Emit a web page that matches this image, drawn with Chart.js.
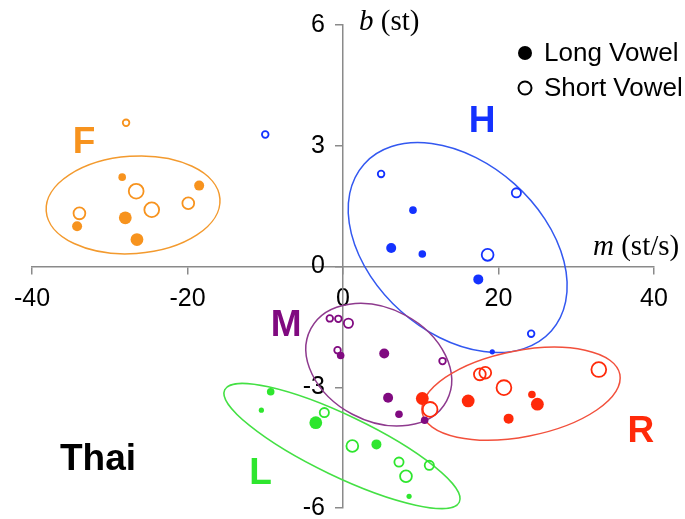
<!DOCTYPE html>
<html>
<head>
<meta charset="utf-8">
<script src="https://cdn.jsdelivr.net/npm/chart.js@4"></script>
<style>
    html, body { margin: 0; padding: 0; background: #fff; }
</style>
</head>
<body>
<canvas id="chart" width="685" height="519"></canvas>
<script>
// Tone groups F, H, M, R, L: slope m (st/s) and level b (st) per token.
// xxLong: 1 = long vowel (filled marker), 0 = short vowel (open marker)
// xxW: relative marker weight, 1 (smallest) .. 4 (largest)
const fM = [-27.9, -28.4, -26.6, -18.5, -24.6, -19.9, -33.9, -34.2, -28.0, -26.5];
const fB = [3.57, 2.22, 1.87, 2.01, 1.41, 1.57, 1.32, 1.00, 1.21, 0.67];
const fLong = [0, 1, 0, 1, 0, 0, 0, 1, 1, 1];
const fW = [1, 2, 4, 3, 4, 3, 3, 3, 4, 4];

const hM = [-10.0, 4.9, 22.3, 9.0, 6.2, 10.2, 18.6, 17.4, 24.2, 19.2];
const hB = [3.28, 2.30, 1.83, 1.40, 0.46, 0.31, 0.29, -0.32, -1.67, -2.12];
const hLong = [0, 0, 0, 1, 1, 1, 0, 1, 0, 1];
const hW = [1, 1, 2, 2, 3, 2, 3, 3, 1, 1];

const mM = [-1.7, -0.6, 0.7, -0.7, -0.3, 5.3, 12.8, 5.8, 7.2, 10.5];
const mB = [-1.29, -1.30, -1.41, -2.08, -2.21, -2.16, -2.35, -3.26, -3.67, -3.82];
const mLong = [0, 0, 0, 0, 1, 1, 0, 1, 1, 1];
const mW = [1, 1, 2, 1, 2, 3, 1, 3, 2, 2];

const rM = [17.6, 18.3, 20.7, 32.9, 24.3, 25.0, 21.3, 16.1, 10.2, 11.2];
const rB = [-2.68, -2.64, -3.01, -2.56, -3.18, -3.42, -3.78, -3.34, -3.28, -3.55];
const rLong = [0, 0, 0, 0, 1, 1, 1, 1, 1, 0];
const rW = [3, 3, 4, 4, 2, 4, 3, 4, 4, 4];

const lM = [-9.3, -10.5, -2.4, -3.5, 1.2, 4.3, 7.2, 8.1, 11.1, 8.5];
const lB = [-3.11, -3.57, -3.63, -3.88, -4.46, -4.42, -4.86, -5.21, -4.94, -5.71];
const lLong = [1, 1, 0, 1, 0, 1, 0, 0, 0, 1];
const lW = [2, 1, 2, 4, 3, 3, 2, 3, 2, 1];

const xTicks = [-40, -20, 0, 20, 40];
const yTicks = [-6, -3, 0, 3, 6];

// marker radii by weight
const filledR = [0, 2.6, 3.8, 5, 6.4];
const openR = [0, 3.3, 4.6, 5.9, 7.4];

// ellipse: centre (m, b), semi axes in x units, rotation in degrees
const groups = [
    { name: 'F', m: fM, b: fB, long: fLong, w: fW, color: '#F7931E', line: '#F39A2E',
      ell: [-27.0, 1.53, 11.2, 6.26, -4], label: [-33.3, 3.07] },
    { name: 'H', m: hM, b: hB, long: hLong, w: hW, color: '#1432FF', line: '#3358F0',
      ell: [14.75, 0.47, 16.13, 10.97, 41.7], label: [17.9, 3.6] },
    { name: 'M', m: mM, b: mB, long: mLong, w: mW, color: '#800A80', line: '#8E3A8E',
      ell: [4.6, -2.44, 9.89, 7.22, 28], label: [-7.3, -1.47] },
    { name: 'R', m: rM, b: rB, long: rLong, w: rW, color: '#FF2A0A', line: '#F2503C',
      ell: [22.9, -3.16, 12.95, 5.54, -11], label: [38.3, -4.11] },
    { name: 'L', m: lM, b: lB, long: lLong, w: lW, color: '#2EE62E', line: '#44E044',
      ell: [-0.13, -4.46, 16.73, 3.92, 25.6], label: [-10.6, -5.15] }
];

const datasets = groups.map(g => ({
    label: g.name,
    data: g.m.map((v, i) => ({ x: v, y: g.b[i] })),
    pointRadius: g.w.map((w, i) => g.long[i] ? filledR[w] : openR[w]),
    pointBackgroundColor: g.long.map(l => l ? g.color : 'rgba(0,0,0,0)'),
    pointBorderColor: g.color,
    pointBorderWidth: g.long.map(l => l ? 0 : 1.8),
    pointHoverRadius: g.w.map((w, i) => g.long[i] ? filledR[w] : openR[w]),
    showLine: false,
    clip: false
}));

const axisGray = '#8a8a8a';
const tickFont = { family: "'Liberation Sans', Arial, sans-serif", size: 25, lineHeight: 1 };

// centre axes should not take space from the plot area
function noReserve(s) {
    s.paddingTop = s.paddingBottom = s.paddingLeft = s.paddingRight = 0;
    if (s.isHorizontal()) s.height = 0; else s.width = 0;
}

const overlay = {
    id: 'overlay',
    beforeDatasetsDraw(chart) {
        const { ctx, scales: { x, y } } = chart;
        const unit = Math.abs(x.getPixelForValue(1) - x.getPixelForValue(0));
        groups.forEach(g => {
            const [cx, cy, a, b, rot] = g.ell;
            ctx.save();
            ctx.beginPath();
            ctx.ellipse(x.getPixelForValue(cx), y.getPixelForValue(cy), a * unit, b * unit,
                rot * Math.PI / 180, 0, Math.PI * 2);
            ctx.strokeStyle = g.line;
            ctx.lineWidth = 1.5;
            ctx.stroke();
            ctx.restore();
        });
    },
    afterDraw(chart) {
        const { ctx, scales: { x, y } } = chart;
        ctx.save();
        ctx.textAlign = 'center';
        ctx.textBaseline = 'middle';

        // group letters
        ctx.font = "bold 37px 'Liberation Sans', Arial, sans-serif";
        groups.forEach(g => {
            ctx.fillStyle = g.color;
            ctx.fillText(g.name, x.getPixelForValue(g.label[0]), y.getPixelForValue(g.label[1]));
        });
        ctx.fillStyle = '#000';
        ctx.fillText('Thai', 98, 460);

        // axis titles
        ctx.textAlign = 'left';
        ctx.font = "italic 29px 'Liberation Serif', 'Times New Roman', serif";
        ctx.fillText('b', 359, 22);
        let w = ctx.measureText('b').width;
        ctx.font = "29px 'Liberation Serif', 'Times New Roman', serif";
        ctx.fillText(' (st)', 359 + w, 22);

        ctx.font = "italic 29px 'Liberation Serif', 'Times New Roman', serif";
        ctx.fillText('m', 593, 247);
        w = ctx.measureText('m').width;
        ctx.font = "29px 'Liberation Serif', 'Times New Roman', serif";
        ctx.fillText(' (st/s)', 593 + w, 247);

        // legend
        ctx.beginPath();
        ctx.arc(525, 53, 7, 0, Math.PI * 2);
        ctx.fill();
        ctx.beginPath();
        ctx.arc(525, 88, 6.5, 0, Math.PI * 2);
        ctx.lineWidth = 2;
        ctx.strokeStyle = '#000';
        ctx.stroke();
        ctx.font = "26px 'Liberation Sans', Arial, sans-serif";
        ctx.fillText('Long Vowel', 544, 54);
        ctx.fillText('Short Vowel', 544, 89);
        ctx.restore();
    }
};

new Chart(document.getElementById('chart'), {
    type: 'scatter',
    data: { datasets },
    options: {
        responsive: false,
        animation: false,
        events: [],
        layout: { padding: { left: 32, right: 31, top: 25, bottom: 11 } },
        plugins: { legend: { display: false }, tooltip: { enabled: false } },
        scales: {
            x: {
                type: 'linear', min: -40, max: 40,
                position: 'center',
                afterBuildTicks: s => { s.ticks = xTicks.map(v => ({ value: v })); },
                afterFit: noReserve,
                border: { color: axisGray, width: 1.5 },
                grid: { drawOnChartArea: false, color: axisGray, lineWidth: 1.5, tickLength: 7 },
                ticks: { font: tickFont, color: '#000', padding: 13, maxRotation: 0, autoSkip: false }
            },
            y: {
                type: 'linear', min: -6, max: 6,
                position: 'center',
                afterBuildTicks: s => { s.ticks = yTicks.map(v => ({ value: v })); },
                afterFit: noReserve,
                border: { color: axisGray, width: 1.5 },
                grid: { drawOnChartArea: false, color: axisGray, lineWidth: 1.5, tickLength: 7 },
                ticks: { font: tickFont, color: '#000', padding: 11, autoSkip: false }
            }
        }
    },
    plugins: [overlay]
});
</script>
</body>
</html>
